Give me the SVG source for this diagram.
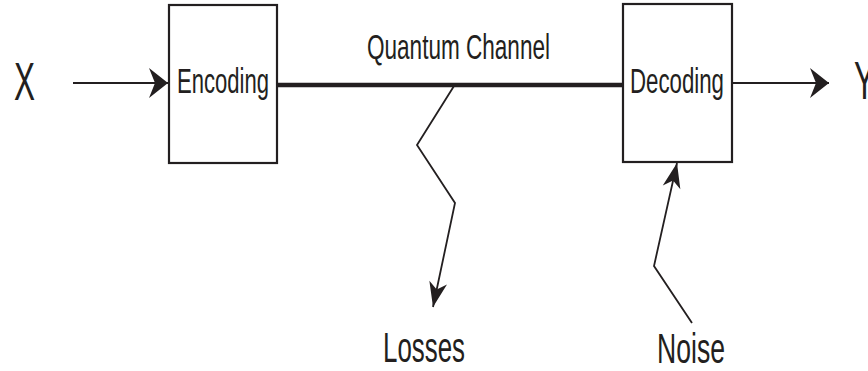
<svg xmlns="http://www.w3.org/2000/svg" width="868" height="371" viewBox="0 0 868 371">
<style>
.box{fill:#fff;stroke:#231f20;stroke-width:2.2}
.lbl{font-family:"Liberation Sans",Arial,sans-serif;fill:#231f20}
.thin{fill:none;stroke:#231f20;stroke-width:1.8}
.thick{fill:none;stroke:#231f20;stroke-width:4.5}
</style>
<defs>
<marker id="ah" viewBox="-20 -16 21 32" refX="0" refY="0" markerWidth="21" markerHeight="32" markerUnits="userSpaceOnUse" orient="auto">
<path d="M0,0 L-19,-15 L-13,0 L-19,15 Z" fill="#231f20"/>
</marker>
<marker id="as" viewBox="-26 -10 27 20" refX="0" refY="0" markerWidth="27" markerHeight="20" markerUnits="userSpaceOnUse" orient="auto">
<path d="M0,0 L-25,-9 L-18,0 L-25,9 Z" fill="#231f20"/>
</marker>
</defs>
<g id="connectors">
<line class="thin" x1="73" y1="83" x2="168" y2="83" marker-end="url(#ah)"/>
<line class="thick" x1="277" y1="85" x2="623" y2="85"/>
<line class="thin" x1="732" y1="83" x2="829" y2="83" marker-end="url(#ah)"/>
<polyline class="thin" points="454,86 417,145 455,203 433,307" marker-end="url(#as)"/>
<polyline class="thin" points="692,323 654,266 677,163" marker-end="url(#as)"/>
</g>
<g id="X"><text class="lbl" x="14" y="100" font-size="54" textLength="21" lengthAdjust="spacingAndGlyphs">X</text></g>
<g id="Y"><text class="lbl" x="854" y="99" font-size="54" textLength="21" lengthAdjust="spacingAndGlyphs">Y</text></g>
<g id="encoding">
<rect class="box" x="169" y="5" width="108" height="158"/>
<text class="lbl" x="177" y="93" font-size="35" textLength="92" lengthAdjust="spacingAndGlyphs">Encoding</text>
</g>
<g id="decoding">
<rect class="box" x="623" y="4" width="109" height="158"/>
<text class="lbl" x="630" y="93" font-size="35" textLength="94" lengthAdjust="spacingAndGlyphs">Decoding</text>
</g>
<g id="channel-label"><text class="lbl" x="367" y="59" font-size="35" textLength="183" lengthAdjust="spacingAndGlyphs">Quantum Channel</text></g>
<g id="losses"><text class="lbl" x="383" y="362" font-size="42" textLength="82" lengthAdjust="spacingAndGlyphs">Losses</text></g>
<g id="noise"><text class="lbl" x="657" y="363" font-size="42" textLength="68" lengthAdjust="spacingAndGlyphs">Noise</text></g>
</svg>
